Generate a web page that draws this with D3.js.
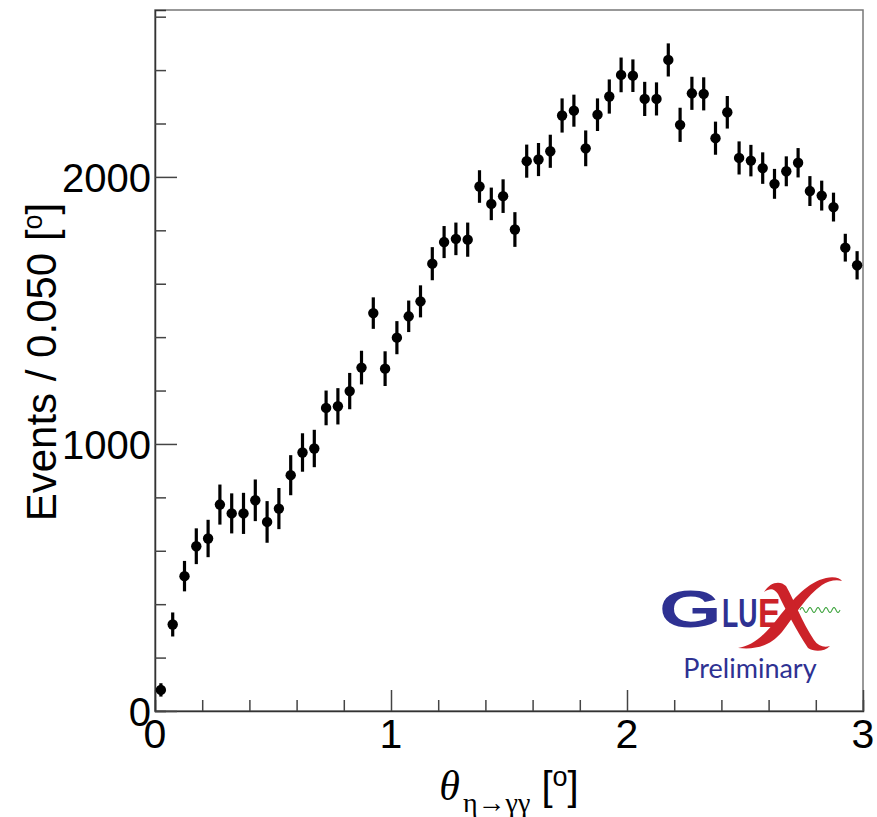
<!DOCTYPE html>
<html>
<head>
<meta charset="utf-8">
<script src="https://cdn.jsdelivr.net/npm/d3@7"></script>
<style>
  body { margin: 0; background: #fff; }
  svg { display: block; }
</style>
</head>
<body>
<div id="chart"></div>
<script>
// bin centres run 0.025 .. 2.975 (bin width 0.050 deg)
const binWidth = 0.05;
const counts = [
  79, 324, 505, 617, 646, 773, 740, 740, 789, 708,
  758, 883, 968, 983, 1135, 1141, 1198, 1286, 1490, 1282,
  1398, 1478, 1534, 1675, 1756, 1768, 1765, 1964, 1899, 1928,
  1803, 2059, 2065, 2096, 2230, 2248, 2107, 2233, 2301, 2382,
  2379, 2292, 2292, 2438, 2195, 2313, 2311, 2145, 2242, 2071,
  2061, 2033, 1974, 2021, 2053, 1947, 1930, 1887, 1735, 1669
];
const errors = [
  25, 45, 57, 67, 70, 75, 75, 77, 78, 78,
  77, 75, 72, 70, 65, 68, 68, 63, 59, 65,
  62, 59, 60, 62, 60, 61, 64, 61, 61, 63,
  65, 62, 62, 62, 64, 60, 67, 61, 64, 65,
  61, 64, 62, 62, 64, 62, 62, 62, 61, 62,
  59, 59, 56, 56, 55, 56, 56, 54, 52, 53
];
const xMajorTicks = [0, 1, 2, 3];
const yMajorTicks = [0, 1000, 2000];

const width = 877, height = 817;
const margin = { left: 155, right: 14, top: 10, bottom: 106 };

const svg = d3.select('#chart').append('svg')
  .attr('width', width)
  .attr('height', height);

const x = d3.scaleLinear().domain([0, 3]).range([margin.left, width - margin.right]);
const y = d3.scaleLinear().domain([0, 2625]).range([height - margin.bottom, margin.top]);

const points = counts.map((c, i) => ({ x: (i + 0.5) * binWidth, y: c, e: errors[i] }));

// frame
svg.append('rect')
  .attr('x', x(0)).attr('y', y(2625))
  .attr('width', x(3) - x(0)).attr('height', y(0) - y(2625))
  .attr('fill', 'none').attr('stroke', '#777').attr('stroke-width', 1.5);

// axes (ROOT style: ticks inside the frame)
const xAxis = d3.axisTop(x)
  .tickValues(d3.range(0, 3.001, 0.2))
  .tickSize(11).tickFormat('');
svg.append('g').attr('transform', `translate(0,${y(0)})`).call(xAxis)
  .call(g => g.select('.domain').attr('stroke', '#333').attr('stroke-width', 1.5))
  .call(g => g.selectAll('.tick line').attr('stroke', '#444').attr('stroke-width', 1.5)
    .attr('y2', d => Math.abs(d - Math.round(d)) < 1e-6 ? -21 : -11));

const yAxis = d3.axisRight(y)
  .tickValues(d3.range(0, 2601, 200))
  .tickSize(11).tickFormat('');
svg.append('g').attr('transform', `translate(${x(0)},0)`).call(yAxis)
  .call(g => g.select('.domain').attr('stroke', '#333').attr('stroke-width', 1.5))
  .call(g => g.selectAll('.tick line').attr('stroke', '#444').attr('stroke-width', 1.5)
    .attr('x2', d => d % 1000 === 0 ? 22 : 11));

// tick labels
const font = 'Liberation Sans, Arial, Helvetica, sans-serif';
const serif = 'Liberation Serif, Times New Roman, serif';
svg.append('g').selectAll('text').data(xMajorTicks).join('text')
  .attr('x', d => x(d)).attr('y', y(0) + 37)
  .attr('text-anchor', 'middle')
  .attr('font-family', font).attr('font-size', 41)
  .text(d => d);

svg.append('g').selectAll('text').data(yMajorTicks).join('text')
  .attr('x', x(0) - 4).attr('y', d => y(d) + 15)
  .attr('text-anchor', 'end')
  .attr('font-family', font).attr('font-size', 40)
  .text(d => d);

// y title
const yTitle = svg.append('text')
  .attr('transform', 'translate(56,362) rotate(-90)')
  .attr('text-anchor', 'middle')
  .attr('font-family', font).attr('font-size', 42);
yTitle.append('tspan').text('Events / 0.050 [');
yTitle.append('tspan').attr('font-size', 27).attr('dy', -14).text('o');
yTitle.append('tspan').attr('dy', 14).text(']');

// x title
const xTitle = svg.append('text')
  .attr('x', 509).attr('y', 800)
  .attr('text-anchor', 'middle')
  .attr('font-family', font).attr('font-size', 40);
xTitle.append('tspan').attr('font-family', serif)
  .attr('font-style', 'italic').attr('font-size', 42).text('θ');
xTitle.append('tspan').attr('font-family', serif)
  .attr('font-size', 28).attr('dy', 12).attr('dx', 3).text('η→γγ');
xTitle.append('tspan').attr('dy', -12).text(' [');
xTitle.append('tspan').attr('font-size', 27).attr('dy', -14).text('o');
xTitle.append('tspan').attr('dy', 14).text(']');

// error bars
svg.append('g').selectAll('line').data(points).join('line')
  .attr('x1', d => x(d.x)).attr('x2', d => x(d.x))
  .attr('y1', d => y(d.y - d.e)).attr('y2', d => y(d.y + d.e))
  .attr('stroke', '#000').attr('stroke-width', 3.2);

// markers
svg.append('g').selectAll('circle').data(points).join('circle')
  .attr('cx', d => x(d.x)).attr('cy', d => y(d.y))
  .attr('r', 5.2).attr('fill', '#000');

// GlueX logo
const logo = svg.append('g');
const red = '#cc2229', blue = '#2e3192';
// the script X, drawn behind the letters
logo.append('path') // "/" swoosh, bottom-left to top-right
  .attr('d', 'M738,648 C752,646 764,636 778,618 C794,598 808,582 826,578 C834,576 840,578 842,581 C836,579 828,581 822,585 C806,596 796,614 782,632 C770,646 756,650 738,648 Z')
  .attr('fill', red);
logo.append('path') // "\" thick stroke, top-left to bottom-right
  .attr('d', 'M764,592 C770,582 780,580 786,586 C794,600 802,622 814,640 C818,646 824,648 830,646 C824,652 814,652 808,648 C796,630 786,610 778,594 C774,588 770,588 764,592 Z')
  .attr('fill', red);
logo.append('text')
  .attr('transform', 'translate(659,627) scale(1.55,1)')
  .attr('font-family', font).attr('font-weight', 'bold').attr('font-size', 52)
  .attr('fill', blue).text('G');
logo.append('text')
  .attr('transform', 'translate(722,627) scale(0.65,1)')
  .attr('font-family', font).attr('font-weight', 'bold').attr('font-size', 41)
  .attr('fill', blue).text('LU');
logo.append('text')
  .attr('transform', 'translate(758,627) scale(0.82,1)')
  .attr('font-family', font).attr('font-weight', 'bold').attr('font-size', 41)
  .attr('fill', red).text('E');
const wave = d3.range(0, 40.5, 0.5).map(t => [800 + t, 610 - 2.5 * Math.sin(t / 40 * 2 * Math.PI * 5)]);
logo.append('path')
  .attr('d', d3.line()(wave))
  .attr('fill', 'none').attr('stroke', '#3aa23a').attr('stroke-width', 1.1);
logo.append('text')
  .attr('x', 750).attr('y', 678)
  .attr('text-anchor', 'middle')
  .attr('font-family', 'Lato, Open Sans, sans-serif').attr('font-size', 27)
  .attr('fill', blue).text('Preliminary');
</script>
</body>
</html>
